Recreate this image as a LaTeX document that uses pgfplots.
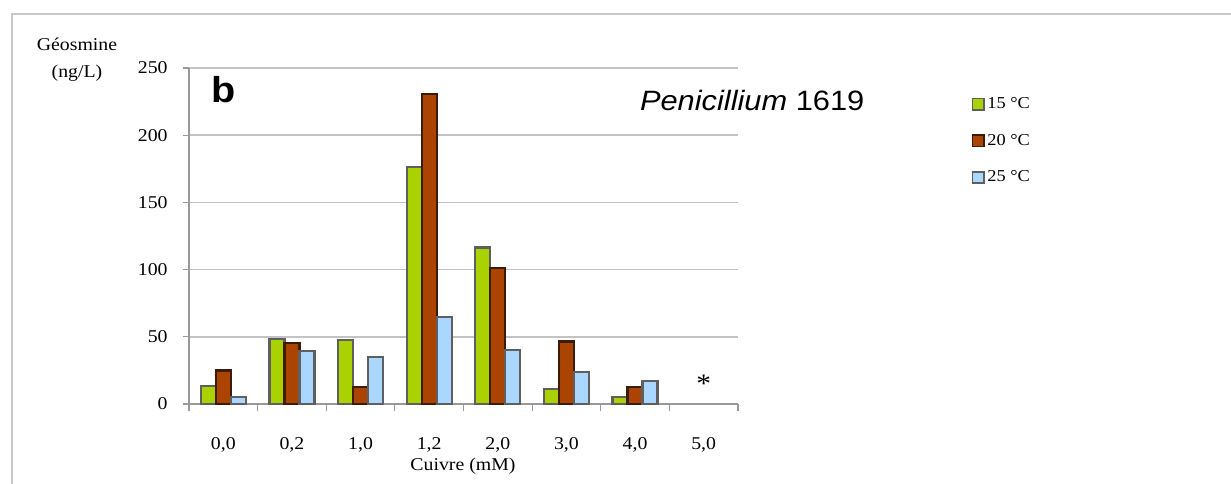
\documentclass[border=0pt]{standalone}
\usepackage{fontspec}
\setmainfont[FakeStretch=1.1]{Liberation Serif}
\setsansfont[FakeStretch=1.1]{Liberation Sans}
\usepackage{pgfplots}
\pgfplotsset{compat=1.18}
\definecolor{cgreen}{RGB}{170,210,0}
\definecolor{cbrown}{RGB}{170,68,0}
\definecolor{cblue}{RGB}{170,215,255}
\definecolor{bgray}{RGB}{95,95,95}
\definecolor{bdark}{RGB}{60,28,8}
\definecolor{gridc}{RGB}{195,195,195}
\definecolor{framec}{RGB}{200,200,200}
\begin{document}
\begin{tikzpicture}
\useasboundingbox (0,0) rectangle (923.25pt,363pt);
\draw[framec, line width=1.2pt] (9pt,0) -- (9pt,352.5pt) -- (923.25pt,352.5pt);
\begin{axis}[
  at={(141.75pt,60pt)}, anchor=south west,
  scale only axis, width=411.75pt, height=252pt,
  xmin=-0.5, xmax=7.5, ymin=0, ymax=250,
  clip=false,
  ybar=0pt, bar width=11.25pt,
  axis lines*=left,
  axis line style={gray!80, line width=0.8pt},
  tick align=outside,
  xtick={0,...,7},
  xticklabels={{0,0},{0,2},{1,0},{1,2},{2,0},{3,0},{4,0},{5,0}},
  major x tick style={draw=none},
  minor xtick={-0.5,0.5,...,7.5},
  minor x tick style={gray!80, line width=0.8pt},
  minor tick length=5pt,
  ytick={0,50,...,250},
  major tick length=4.5pt,
  y tick style={gray!80, line width=0.8pt},
  ymajorgrids,
  grid style={gridc, line width=1.3pt},
  /pgf/number format/assume math mode=true,
  tick label style={font=\fontsize{13.5}{16}\selectfont},
  xticklabel style={anchor=base, yshift=-30pt},
  yticklabel style={xshift=-8pt},
  ylabel={Géosmine\\(ng/L)},
  ylabel style={rotate=-90, align=center, at={(axis description cs:-0.204,1.024)}, anchor=center, font=\fontsize{13.5}{20}\selectfont},
  xlabel={Cuivre (mM)},
  xlabel style={at={(axis description cs:0.499,-0.185)}, anchor=center, font=\fontsize{13.5}{16}\selectfont},
  legend image code/.code={\draw[#1, line width=1.3pt] (0pt,-4.3pt) rectangle (8.6pt,4.3pt);},
  legend style={at={(axis description cs:1.425,0.92)}, anchor=north west, draw=none, fill=none,
    font=\fontsize{12.5}{14}\selectfont, row sep=13.6pt, inner sep=0pt},
  legend cell align=left,
]
\addplot[fill=cgreen, draw=bgray, line width=1.6pt] coordinates {(0,13.1) (1,48.5) (2,47.8) (3,176.6) (4,116.4) (5,11.2) (6,4.9)};
\addplot[fill=cbrown, draw=bdark, line width=1.6pt] coordinates {(0,24.9) (1,45.2) (2,12.9) (3,230.6) (4,101.5) (5,46.5) (6,12.9)};
\addplot[fill=cblue, draw=bgray, line width=1.6pt] coordinates {(0,4.9) (1,39.3) (2,34.8) (3,64.6) (4,40.3) (5,23.6) (6,17.4)};
\legend{15 °C, 20 °C, 25 °C}
\node[font=\sffamily\bfseries\fontsize{27}{30}\selectfont] at (axis cs:0,233.6) {b};
\node[font=\sffamily\fontsize{21}{24}\selectfont] at (axis cs:7.707,226) {\textit{Penicillium} 1619};
\node[font=\fontsize{20}{22}\selectfont] at (axis cs:7,15) {*};
\end{axis}
\end{tikzpicture}
\end{document}
